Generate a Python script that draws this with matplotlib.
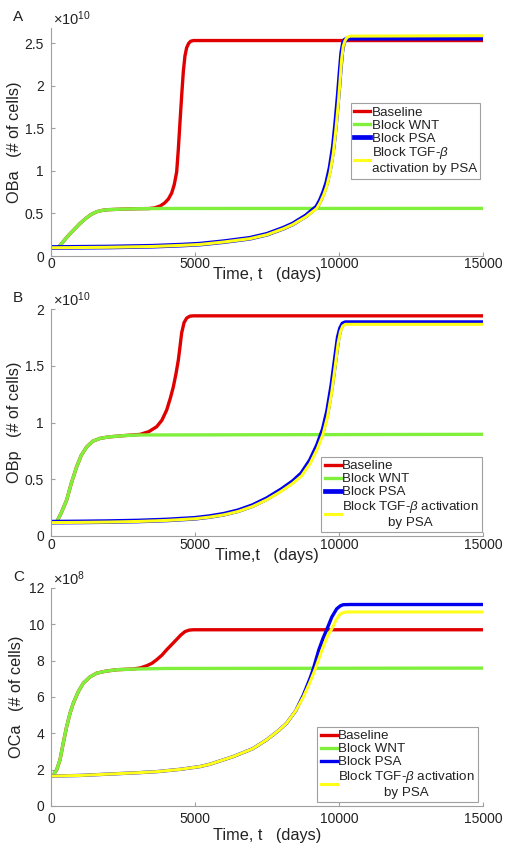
import matplotlib

matplotlib.use("Agg")

import matplotlib.pyplot as plt
from matplotlib.ticker import FuncFormatter

plt.rcParams["font.family"] = ["Liberation Sans", "DejaVu Sans"]
plt.rcParams["mathtext.fontset"] = "custom"
plt.rcParams["mathtext.rm"] = "Liberation Sans"
plt.rcParams["mathtext.it"] = "Liberation Sans:italic"

# --- panel A: OBa (x 1e10) ---
oba_base_t = [0, 250, 400, 600, 800, 1000, 1200, 1400, 1600, 1800, 2000, 2500, 3000, 3400,
              3600, 3800, 3950, 4075, 4190, 4280, 4364, 4420, 4480, 4540, 4595, 4650, 4711,
              4780, 4850, 4950, 15000]
oba_base_v = [0.10, 0.10, 0.16, 0.24, 0.31, 0.38, 0.44, 0.49, 0.522, 0.538, 0.545, 0.552,
              0.556, 0.558, 0.566, 0.59, 0.625, 0.67, 0.74, 0.84, 0.99, 1.25, 1.58, 1.90, 2.17,
              2.35, 2.45, 2.50, 2.525, 2.533, 2.533]
oba_wnt_t = [0, 250, 400, 600, 800, 1000, 1200, 1400, 1600, 1800, 2000, 2500, 3000, 4000, 15000]
oba_wnt_v = [0.10, 0.10, 0.16, 0.24, 0.31, 0.38, 0.44, 0.49, 0.522, 0.538, 0.545, 0.552,
             0.556, 0.559, 0.56]
oba_tgf_t = [0, 2000, 3500, 4500, 5174, 6000, 6910, 7500, 8066, 8400, 8646, 8850, 9000, 9225,
             9350, 9470, 9572, 9690, 9803, 9890, 9977, 10040, 10093, 10150, 10208, 10280,
             10382, 15000]
oba_tgf_v = [0.097, 0.103, 0.112, 0.125, 0.136, 0.165, 0.204, 0.25, 0.32, 0.37, 0.42, 0.46,
             0.50, 0.558, 0.63, 0.72, 0.816, 0.98, 1.21, 1.48, 1.80, 2.08, 2.32, 2.47, 2.53,
             2.57, 2.585, 2.59]
oba_psa_t = oba_tgf_t
oba_psa_v = [0.10, 0.106, 0.115, 0.128, 0.14, 0.169, 0.209, 0.256, 0.327, 0.378, 0.43, 0.472,
             0.515, 0.578, 0.655, 0.755, 0.86, 1.04, 1.29, 1.58, 1.91, 2.18, 2.39, 2.50, 2.54,
             2.555, 2.56, 2.56]

# --- panel B: OBp (x 1e10) ---
obp_base_t = [0, 200, 350, 544, 700, 891, 1050, 1239, 1450, 1701, 2000, 2511, 3090, 3400, 3669,
              3850, 4017, 4150, 4248, 4340, 4421, 4480, 4537, 4620, 4711, 4820, 4950, 15000]
obp_base_v = [0.12, 0.126, 0.20, 0.317, 0.46, 0.61, 0.71, 0.785, 0.835, 0.86, 0.873, 0.884,
              0.895, 0.92, 0.963, 1.02, 1.11, 1.22, 1.315, 1.43, 1.55, 1.67, 1.79, 1.88, 1.92,
              1.937, 1.94, 1.94]
obp_wnt_t = [0, 200, 350, 544, 700, 891, 1050, 1239, 1450, 1701, 2000, 2511, 3000, 15000]
obp_wnt_v = [0.12, 0.126, 0.20, 0.317, 0.46, 0.61, 0.71, 0.785, 0.835, 0.86, 0.873, 0.884,
             0.89, 0.896]
obp_tgf_t = [0, 1000, 2000, 3000, 4000, 5000, 5500, 6000, 6500, 7000, 7500, 8000, 8400, 8700,
             9000, 9250, 9450, 9600, 9750, 9870, 9970, 10050, 10130, 10220, 10350, 15000]
obp_tgf_v = [0.118, 0.12, 0.123, 0.128, 0.137, 0.152, 0.166, 0.186, 0.216, 0.26, 0.32, 0.395,
             0.465, 0.53, 0.64, 0.77, 0.90, 1.05, 1.27, 1.50, 1.70, 1.80, 1.85, 1.865, 1.865,
             1.865]
obp_psa_t = obp_tgf_t
obp_psa_v = [0.122, 0.124, 0.127, 0.132, 0.141, 0.156, 0.171, 0.192, 0.223, 0.268, 0.33, 0.408,
             0.48, 0.55, 0.665, 0.80, 0.94, 1.10, 1.33, 1.56, 1.75, 1.83, 1.87, 1.88, 1.88, 1.88]

# --- panel C: OCa (x 1e8) ---
oca_base_t = [0, 81, 200, 313, 430, 544, 660, 775, 950, 1122, 1350, 1586, 1900, 2281, 2858,
              3100, 3321, 3500, 3669, 3850, 4017, 4200, 4364, 4500, 4653, 4800, 4941, 15000]
oca_base_v = [1.68, 1.71, 2.0, 2.54, 3.5, 4.37, 5.1, 5.66, 6.3, 6.76, 7.1, 7.31, 7.42, 7.50,
              7.54, 7.6, 7.72, 7.85, 8.05, 8.3, 8.6, 8.9, 9.17, 9.4, 9.6, 9.68, 9.70, 9.70]
oca_wnt_t = [0, 81, 200, 313, 430, 544, 660, 775, 950, 1122, 1350, 1586, 1900, 2281, 3000,
             4000, 15000]
oca_wnt_v = [1.68, 1.71, 2.0, 2.54, 3.5, 4.37, 5.1, 5.66, 6.3, 6.76, 7.1, 7.31, 7.42, 7.50,
             7.54, 7.57, 7.59]
oca_psa_t = [0, 1000, 1934, 3000, 3669, 4500, 5174, 5520, 6330, 7000, 7487, 7900, 8182, 8500,
             8761, 9000, 9109, 9300, 9450, 9572, 9750, 9919, 10050, 10150, 10400, 15000]
oca_psa_v = [1.65, 1.68, 1.75, 1.83, 1.89, 2.02, 2.17, 2.3, 2.72, 3.15, 3.64, 4.15, 4.56, 5.25,
             6.1, 7.05, 7.55, 8.6, 9.25, 9.7, 10.4, 10.85, 11.02, 11.08, 11.09, 11.09]
oca_tgf_t = [0, 1000, 1934, 3000, 3669, 4500, 5174, 5520, 6330, 7000, 7487, 7900, 8182, 8500,
             8761, 9000, 9167, 9400, 9600, 9750, 9900, 10050, 10200, 10400, 15000]
oca_tgf_v = [1.65, 1.68, 1.75, 1.83, 1.89, 2.02, 2.17, 2.3, 2.72, 3.15, 3.64, 4.15, 4.56, 5.25,
             6.0, 6.85, 7.5, 8.55, 9.35, 9.75, 10.25, 10.58, 10.67, 10.68, 10.68]

series_labels = ["Baseline", "Block WNT", "Block PSA"]
tgf_label_a = "Block TGF-$\\beta$\nactivation by PSA"
tgf_label_bc = "Block TGF-$\\beta$ activation\nby PSA"
x_ticks = [0, 5000, 10000, 15000]

RED = "#e00000"
GREEN = "#80f03c"
BLUE = "#0000ee"
YELLOW = "#ffff1a"
AXIS_GREY = "#a0a0a0"
TEXT = "#222222"

panels = [
    dict(letter="A", rect=[0.0996, 0.6995, 0.8438, 0.2676],
         data=[(oba_base_t, oba_base_v), (oba_wnt_t, oba_wnt_v),
               (oba_psa_t, oba_psa_v), (oba_tgf_t, oba_tgf_v)],
         ylim=2.68, yticks=[0, 0.5, 1, 1.5, 2, 2.5], exp="10",
         ylabel="OBa   (# of cells)", xlabel="Time, t   (days)",
         tgf=tgf_label_a, blue_lw=3.4, xpad=0.5, xlab_y=-0.05, ylab_x=-0.068,
         leg_anchor=(0.993, 0.671)),
    dict(letter="B", rect=[0.0996, 0.3709, 0.8438, 0.2664],
         data=[(obp_base_t, obp_base_v), (obp_wnt_t, obp_wnt_v),
               (obp_psa_t, obp_psa_v), (obp_tgf_t, obp_tgf_v)],
         ylim=2.0, yticks=[0, 0.5, 1, 1.5, 2], exp="10",
         ylabel="OBp   (# of cells)", xlabel="Time,t   (days)",
         tgf=tgf_label_bc, blue_lw=3.4, xpad=1.5, xlab_y=-0.055, ylab_x=-0.068,
         leg_anchor=(0.997, 0.349)),
    dict(letter="C", rect=[0.0996, 0.0540, 0.8438, 0.2559],
         data=[(oca_base_t, oca_base_v), (oca_wnt_t, oca_wnt_v),
               (oca_psa_t, oca_psa_v), (oca_tgf_t, oca_tgf_v)],
         ylim=12, yticks=[0, 2, 4, 6, 8, 10, 12], exp="8",
         ylabel="OCa   (# of cells)", xlabel="Time, t   (days)",
         tgf=tgf_label_bc, blue_lw=2.4, xpad=4, xlab_y=-0.10, ylab_x=-0.062,
         leg_anchor=(0.988, 0.364)),
]

fig = plt.figure(figsize=(5.12, 8.52), dpi=100)

for p in panels:
    ax = fig.add_axes(p["rect"])
    (bt, bv), (wt, wv), (pt, pv), (tt, tv) = p["data"]
    ax.plot(bt, bv, color=RED, lw=2.4, label=series_labels[0])
    ax.plot(wt, wv, color=GREEN, lw=2.4, label=series_labels[1])
    ax.plot(pt, pv, color=BLUE, lw=p["blue_lw"], label=series_labels[2])
    ax.plot(tt, tv, color=YELLOW, lw=2.2, label=p["tgf"])

    ax.set_xlim(0, 15000)
    ax.set_ylim(0, p["ylim"])
    ax.set_xticks(x_ticks)
    ax.set_yticks(p["yticks"])
    ax.yaxis.set_major_formatter(FuncFormatter(lambda v, pos: f"{v:g}"))
    ax.xaxis.set_major_formatter(FuncFormatter(lambda v, pos: f"{v:g}"))

    for side in ["top", "right"]:
        ax.spines[side].set_visible(False)
    for side in ["left", "bottom"]:
        ax.spines[side].set_color(AXIS_GREY)
        ax.spines[side].set_linewidth(0.8)
    ax.tick_params(direction="in", length=3, color=AXIS_GREY, labelcolor=TEXT, labelsize=10)
    ax.tick_params(axis="x", pad=p["xpad"])
    ax.tick_params(axis="y", pad=5)

    ax.set_xlabel(p["xlabel"], fontsize=11.7, color=TEXT)
    ax.xaxis.set_label_coords(0.5, p["xlab_y"])
    ax.set_ylabel(p["ylabel"], fontsize=11.7, color=TEXT)
    ax.yaxis.set_label_coords(p["ylab_x"], 0.5)

    ax.text(0.005, 1.0, "$\\times10^{" + p["exp"] + "}$", transform=ax.transAxes,
            ha="left", va="bottom", fontsize=10.5, color=TEXT)

    leg = ax.legend(loc="upper right", bbox_to_anchor=p["leg_anchor"], fontsize=9.6,
                    handlelength=1.2, handletextpad=0.1, borderpad=0.25, labelspacing=0.05,
                    fancybox=False, edgecolor=AXIS_GREY, framealpha=1, borderaxespad=0)
    leg.get_frame().set_linewidth(0.8)
    for txt in leg.get_texts():
        txt.set_color(TEXT)
    if p["letter"] != "A":
        leg.get_texts()[3].set_multialignment("center")

    top = p["rect"][1] + p["rect"][3]
    fig.text(0.025, top + 0.013, p["letter"], fontsize=11, color=TEXT, va="center")

fig.savefig("out.png", dpi=100)
